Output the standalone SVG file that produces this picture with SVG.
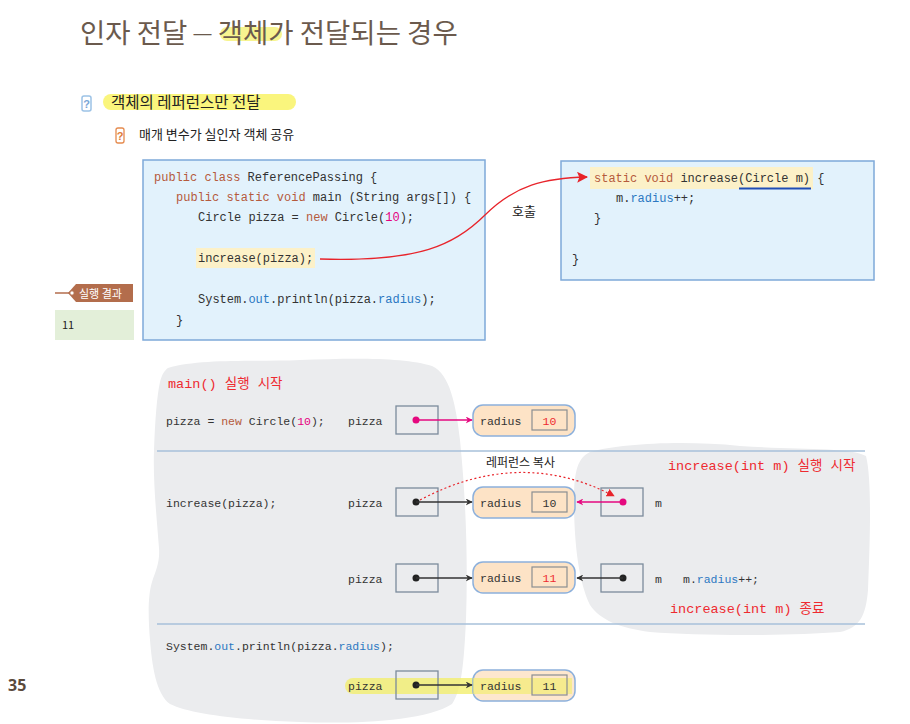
<svg xmlns="http://www.w3.org/2000/svg" width="910" height="724" viewBox="0 0 910 724">
<style>
.title{font-family:"Noto Sans CJK KR","Noto Sans",sans-serif;font-size:27.5px;fill:#6b5a4d}
.kr{font-family:"Noto Sans CJK KR","Noto Sans",sans-serif;fill:#222}
.code{font-family:"Liberation Mono","Noto Sans CJK KR",monospace;font-size:12px;fill:#333}
.dg{font-family:"Liberation Mono","Noto Sans CJK KR",monospace;font-size:11.5px;fill:#333}
.red{font-family:"Liberation Mono","Noto Sans CJK KR",monospace;font-size:13.5px;fill:#ee2a30}
.kw{fill:#b55a3c}
.num{fill:#e5007e}
.blue{fill:#2b78c2}
.codebox{fill:#e2f2fc;stroke:#7ea9d9;stroke-width:1.5}
.ref{fill:none;stroke:#7b8b9c;stroke-width:1.3}
.obj{fill:#fde3c6;stroke:#8cb0dc;stroke-width:1.5}
.inner{fill:#fde3c6;stroke:#8a8e92;stroke-width:1.2}
.blob{fill:#ebecee}
.sep{stroke:#a7c1da;stroke-width:1.5}
.blk{stroke:#333;stroke-width:1.5;fill:none}
.mag{stroke:#e5097f;stroke-width:1.5;fill:none}
</style>
<defs>
<marker id="ab" viewBox="0 0 10 10" refX="9" refY="5" markerWidth="7" markerHeight="7" orient="auto" markerUnits="userSpaceOnUse"><path d="M0,0 L10,5 L0,10 L3,5 Z" fill="#333"/></marker>
<marker id="am" viewBox="0 0 10 10" refX="9" refY="5" markerWidth="7" markerHeight="7" orient="auto" markerUnits="userSpaceOnUse"><path d="M0,0 L10,5 L0,10 L3,5 Z" fill="#e5097f"/></marker>
<marker id="ar" viewBox="0 0 10 10" refX="9" refY="5" markerWidth="11" markerHeight="11" orient="auto" markerUnits="userSpaceOnUse"><path d="M0,0 L10,5 L0,10 L2,5 Z" fill="#e8242b"/></marker>
<marker id="ard" viewBox="0 0 10 10" refX="9" refY="5" markerWidth="8" markerHeight="8" orient="auto" markerUnits="userSpaceOnUse"><path d="M0,0 L10,5 L0,10 Z" fill="#e8242b"/></marker>
</defs>
<rect width="910" height="724" fill="#fff"/>

<!-- title -->
<g id="title">
<rect x="220" y="27" width="62" height="14" rx="7" fill="#f6f27c" opacity="0.85"/>
<text class="title" x="80" y="43">인자 전달 <tspan font-family="Liberation Sans,sans-serif" font-size="18" dy="-4">—</tspan><tspan dy="4"> 객체가 전달되는 경우</tspan></text>
</g>

<g id="bullet1">
<rect x="82" y="96" width="9" height="15" rx="2" fill="#fff" stroke="#9cc2e6" stroke-width="1.5"/>
<text x="86.5" y="107.5" font-family="Liberation Sans,sans-serif" font-size="11" font-weight="bold" fill="#7aa6d6" text-anchor="middle">?</text>
<rect x="103" y="94" width="193" height="16" rx="8" fill="#faf57d"/>
<text class="kr" x="111" y="108" font-size="15.5">객체의 레퍼런스만 전달</text>
</g>
<g id="bullet2">
<rect x="116" y="128" width="8" height="15" rx="2" fill="#fff" stroke="#e58a4e" stroke-width="1.3"/>
<text x="120" y="139.5" font-family="Liberation Sans,sans-serif" font-size="11" font-weight="bold" fill="#e07a3a" text-anchor="middle">?</text>
<text class="kr" x="139" y="139" font-size="13">매개 변수가 실인자 객체 공유</text>
</g>

<!-- main code box -->
<g id="mainCode">
<rect class="codebox" x="143" y="160" width="342" height="180"/>
<rect x="196" y="248" width="119" height="20" fill="#fcf1c8"/>
<text class="code" x="154" y="181"><tspan class="kw">public class</tspan> ReferencePassing {</text>
<text class="code" x="176" y="201"><tspan class="kw">public static void</tspan> main (String args[]) {</text>
<text class="code" x="198" y="221">Circle pizza = <tspan class="kw">new</tspan> Circle(<tspan class="num">10</tspan>);</text>
<text class="code" x="198" y="262">increase(pizza);</text>
<text class="code" x="198" y="303">System.<tspan class="blue">out</tspan>.println(pizza.<tspan class="blue">radius</tspan>);</text>
<text class="code" x="176" y="324">}</text>
</g>

<!-- increase code box -->
<g id="increaseCode">
<rect class="codebox" x="561" y="161" width="313" height="119"/>
<rect x="590" y="167" width="223" height="22" fill="#fcf1c8"/>
<text class="code" x="594" y="182"><tspan class="kw">static void</tspan> increase(Circle m) {</text>
<line x1="739" y1="188.5" x2="811" y2="188.5" stroke="#1f4db5" stroke-width="2"/>
<text class="code" x="616" y="202">m.<tspan class="blue">radius</tspan>++;</text>
<text class="code" x="594" y="222">}</text>
<text class="code" x="572" y="263">}</text>
</g>

<g id="callLabel">
<text class="kr" x="512" y="216" font-size="13">호출</text>
</g>

<!-- result tag -->
<g id="result">
<line x1="55" y1="293" x2="70" y2="293" stroke="#b36d4c" stroke-width="1.5"/>
<path d="M133,284 L76,284 L68,293 L76,302 L133,302 Z" fill="#b36d4c"/>
<circle cx="72" cy="293" r="2.2" fill="#fff" stroke="#b36d4c" stroke-width="1"/>
<text class="kr" x="79" y="298" font-size="11" style="fill:#fff">실행 결과</text>
<rect x="55" y="310" width="79" height="30" fill="#e3efd9"/>
<text class="kr" x="62" y="329" font-size="11">11</text>
</g>

<!-- background blobs -->
<g id="blobs">
<path class="blob" d="M168,368 C200,358 260,362 300,360 C350,358 405,357 432,366 C450,374 456,405 460,440 C466,500 468,560 466,620 C464,660 462,690 452,704 C425,722 350,724 300,722 C240,720 190,714 170,704 C156,694 152,665 150,640 C148,615 148,595 152,582 C156,570 160,562 159,548 C156,510 153,480 154,450 C155,420 157,395 160,382 C162,374 165,370 168,368 Z"/>
<path class="blob" d="M590,452 C620,444 680,440 740,446 C800,450 850,447 866,456 C872,480 870,540 868,590 C866,615 860,628 840,632 C790,636 700,636 650,632 C620,628 600,620 590,605 C578,580 574,540 574,500 C574,470 578,458 590,452 Z"/>
</g>

<g id="separators">
<line class="sep" x1="157" y1="451" x2="865" y2="451"/>
<line class="sep" x1="157" y1="624" x2="865" y2="624"/>
</g>

<!-- step labels -->
<g id="labels">
<text class="red" x="168" y="388">main() 실행 시작</text>
<text class="red" x="668" y="470">increase(int m) 실행 시작</text>
<text class="red" x="670" y="613">increase(int m) 종료</text>
<text class="kr" x="486" y="467" font-size="12">레퍼런스 복사</text>
<text class="dg" x="166" y="425">pizza = <tspan class="kw">new</tspan> Circle(<tspan class="num">10</tspan>);</text>
<text class="dg" x="166" y="507">increase(pizza);</text>
<text class="dg" x="166" y="650">System.<tspan class="blue">out</tspan>.println(pizza.<tspan class="blue">radius</tspan>);</text>
<text class="dg" x="683" y="583">m.<tspan class="blue">radius</tspan>++;</text>
</g>

<rect x="345" y="678" width="227" height="16" rx="8" fill="#f2ef6e" opacity="0.8"/>

<!-- step 1 -->
<g id="pizza1">
<text class="dg" x="348" y="425">pizza</text>
<rect class="ref" x="396" y="406" width="42" height="28"/>
<circle cx="416" cy="420" r="3.5" fill="#e5097f"/>
</g>
<g id="obj1">
<rect class="obj" x="473" y="405" width="102" height="31" rx="10"/>
<text class="dg" x="480" y="425">radius</text>
<rect class="inner" x="532" y="410" width="35" height="20"/>
<text class="dg" x="549.5" y="425" text-anchor="middle" style="fill:#ee2a30">10</text>
</g>

<!-- step 2 -->
<g id="pizza2">
<text class="dg" x="348" y="507">pizza</text>
<rect class="ref" x="396" y="488" width="42" height="28"/>
<circle cx="416" cy="502" r="3.5" fill="#222"/>
</g>
<g id="obj2">
<rect class="obj" x="473" y="487" width="102" height="31" rx="10"/>
<text class="dg" x="480" y="507">radius</text>
<rect class="inner" x="532" y="492" width="35" height="20"/>
<text class="dg" x="549.5" y="507" text-anchor="middle">10</text>
</g>
<g id="m2">
<rect class="ref" x="601" y="488" width="42" height="28"/>
<circle cx="623" cy="502" r="3.5" fill="#e5097f"/>
<text class="dg" x="655" y="507">m</text>
</g>

<!-- step 3 -->
<g id="pizza3">
<text class="dg" x="348" y="583">pizza</text>
<rect class="ref" x="396" y="564" width="42" height="28"/>
<circle cx="416" cy="578" r="3.5" fill="#222"/>
</g>
<g id="obj3">
<rect class="obj" x="473" y="562" width="102" height="31" rx="10"/>
<text class="dg" x="480" y="582">radius</text>
<rect class="inner" x="532" y="567" width="35" height="20"/>
<text class="dg" x="549.5" y="582" text-anchor="middle" style="fill:#ee2a30">11</text>
</g>
<g id="m3">
<rect class="ref" x="601" y="564" width="42" height="28"/>
<circle cx="623" cy="578" r="3.5" fill="#222"/>
<text class="dg" x="655" y="583">m</text>
</g>

<!-- step 4 -->
<g id="pizza4">
<text class="dg" x="348" y="690">pizza</text>
<rect class="ref" x="396" y="671" width="42" height="28"/>
<circle cx="416" cy="685" r="3.5" fill="#222"/>
</g>
<g id="obj4">
<rect class="obj" x="473" y="670" width="102" height="31" rx="10" fill-opacity="0.85"/>
<rect x="473" y="678" width="99" height="16" fill="#f2ef6e" opacity="0.6"/>
<text class="dg" x="480" y="690">radius</text>
<rect class="inner" x="532" y="675" width="35" height="20" fill-opacity="0"/>
<text class="dg" x="549.5" y="690" text-anchor="middle">11</text>
</g>

<!-- connectors -->
<g id="connectors">
<path d="M320,259 C420,262 455,245 485,215 C515,185 545,178 587,177" stroke="#e8242b" stroke-width="1.3" fill="none" marker-end="url(#ar)"/>
<line class="mag" x1="416" y1="420" x2="472" y2="420" marker-end="url(#am)"/>
<line class="blk" x1="416" y1="502" x2="472" y2="502" marker-end="url(#ab)"/>
<path d="M420,500 Q520,447 614,496" stroke="#e8242b" stroke-width="1.2" stroke-dasharray="2,2.5" fill="none" marker-end="url(#ard)"/>
<line class="mag" x1="623" y1="502" x2="577" y2="502" marker-end="url(#am)"/>
<line class="blk" x1="416" y1="578" x2="472" y2="578" marker-end="url(#ab)"/>
<line class="blk" x1="623" y1="578" x2="577" y2="578" marker-end="url(#ab)"/>
<line class="blk" x1="416" y1="685" x2="472" y2="685" marker-end="url(#ab)"/>
</g>

<g id="pageNo">
<text x="8" y="691" font-family="Noto Sans,Liberation Sans,sans-serif" font-size="16" font-weight="bold" fill="#5b4a3c">35</text>
</g>
</svg>
